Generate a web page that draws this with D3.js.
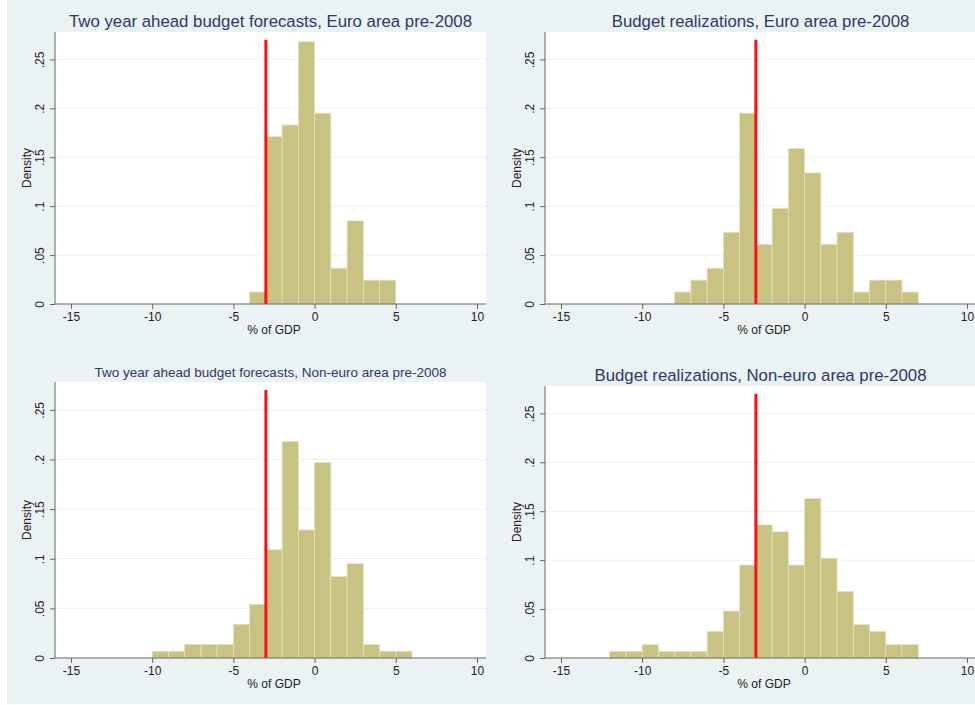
<!DOCTYPE html>
<html>
<head>
<meta charset="utf-8">
<script src="https://cdn.jsdelivr.net/npm/d3@7"></script>
<style>
  body { margin: 0; background: #fff; }
  svg { display: block; font-family: "Liberation Sans", Arial, sans-serif; }
</style>
</head>
<body>
<svg id="chart" width="975" height="705"></svg>
<script>
// histogram densities, bins of width 1 (% of GDP), first bin start given
const euroForecastStart = -4;
const euroForecastDensity = [0.0122, 0.171, 0.183, 0.268, 0.195, 0.0366, 0.085, 0.0244, 0.0244];

const euroRealStart = -8;
const euroRealDensity = [0.0122, 0.0244, 0.0366, 0.0732, 0.195, 0.061, 0.0976, 0.159, 0.134,
    0.061, 0.0732, 0.0122, 0.0244, 0.0244, 0.0122];

const nonEuroForecastStart = -10;
const nonEuroForecastDensity = [0.0068, 0.0068, 0.0136, 0.0136, 0.0136, 0.034, 0.054, 0.109,
    0.218, 0.129, 0.197, 0.082, 0.095, 0.0136, 0.0068, 0.0068];

const nonEuroRealStart = -12;
const nonEuroRealDensity = [0.0068, 0.0068, 0.0136, 0.0068, 0.0068, 0.0068, 0.0272, 0.048,
    0.095, 0.136, 0.129, 0.095, 0.163, 0.102, 0.068, 0.034, 0.0272, 0.0136, 0.0136];

const titles = [
    "Two year ahead budget forecasts, Euro area pre-2008",
    "Budget realizations, Euro area pre-2008",
    "Two year ahead budget forecasts, Non-euro area pre-2008",
    "Budget realizations, Non-euro area pre-2008"
];

const xTicks = [-15, -10, -5, 0, 5, 10];
const yTicks = [0, 0.05, 0.1, 0.15, 0.2, 0.25];
const deficitLimit = -3;
const limitTop = 0.27;

const panels = [
    { title: titles[0], start: euroForecastStart, values: euroForecastDensity, left: 55, top: 32, bottom: 304, fs: 16.8, ty: 27 },
    { title: titles[1], start: euroRealStart, values: euroRealDensity, left: 545, top: 32, bottom: 304, fs: 16.8, ty: 27 },
    { title: titles[2], start: nonEuroForecastStart, values: nonEuroForecastDensity, left: 55, top: 382, bottom: 658, fs: 13.5, ty: 377 },
    { title: titles[3], start: nonEuroRealStart, values: nonEuroRealDensity, left: 545, top: 386, bottom: 658, fs: 16.8, ty: 381 }
];

const plotW = 431;
const svg = d3.select("#chart");

svg.append("rect")
    .attr("x", 7).attr("y", 0)
    .attr("width", 968).attr("height", 704)
    .attr("fill", "#eaf2f3");

const fmtY = d => d === 0 ? "0" : String(d).replace(/^0/, "");
const fmtX = d => String(d);   // plain hyphen, like Stata

panels.forEach(p => {
    const x = d3.scaleLinear().domain([-15, 10]).range([p.left + 16, p.left + 422]);
    const y = d3.scaleLinear().domain([0, 0.278]).range([p.bottom, p.top]);
    const g = svg.append("g");

    g.append("rect")
        .attr("x", p.left).attr("y", p.top)
        .attr("width", plotW).attr("height", p.bottom - p.top)
        .attr("fill", "#fff");

    // grid
    g.selectAll(".grid")
        .data(yTicks.filter(t => t > 0))
        .enter().append("line")
            .attr("x1", p.left).attr("x2", p.left + plotW)
            .attr("y1", d => y(d)).attr("y2", d => y(d))
            .attr("stroke", "#eaf2f3").attr("stroke-width", 1);

    // bars
    g.selectAll(".bar")
        .data(p.values)
        .enter().append("rect")
            .attr("x", (d, i) => x(p.start + i))
            .attr("width", (d, i) => x(p.start + i + 1) - x(p.start + i))
            .attr("y", d => y(d))
            .attr("height", d => y(0) - y(d))
            .attr("fill", "#c8c383")
            .attr("stroke", "#e4e1b8")
            .attr("stroke-width", 0.8);

    // deficit limit line
    g.append("line")
        .attr("x1", x(deficitLimit)).attr("x2", x(deficitLimit))
        .attr("y1", y(0)).attr("y2", y(limitTop))
        .attr("stroke", "#ff1010").attr("stroke-width", 3);

    // axes
    const xAxis = g.append("g")
        .attr("transform", `translate(0,${p.bottom})`)
        .call(d3.axisBottom(x).tickValues(xTicks).tickFormat(fmtX).tickSize(5));
    xAxis.select(".domain").attr("d", `M${p.left},0H${p.left + plotW}`);

    const yAxis = g.append("g")
        .attr("transform", `translate(${p.left},0)`)
        .call(d3.axisLeft(y).tickValues(yTicks).tickFormat(fmtY).tickSize(5));
    yAxis.select(".domain").attr("d", `M0,${p.bottom}V${p.top}`);
    yAxis.selectAll(".tick text")
        .attr("x", 0).attr("dy", null)
        .attr("transform", "translate(-11,0) rotate(-90)")
        .attr("text-anchor", "middle");

    [xAxis, yAxis].forEach(a => {
        a.select(".domain").attr("stroke", "#666");
        a.selectAll(".tick line").attr("stroke", "#666");
        a.selectAll(".tick text").attr("fill", "#222").attr("font-size", 12);
    });
    xAxis.selectAll(".tick text").attr("dy", null).attr("y", 17);

    g.append("text")
        .attr("x", x(-2.5)).attr("y", p.bottom + 30)
        .attr("text-anchor", "middle")
        .attr("font-size", 12).attr("fill", "#222")
        .text("% of GDP");

    g.append("text")
        .attr("transform", `translate(${p.left - 24},${(p.top + p.bottom) / 2}) rotate(-90)`)
        .attr("text-anchor", "middle")
        .attr("font-size", 12).attr("fill", "#222")
        .text("Density");

    g.append("text")
        .attr("x", p.left + plotW / 2).attr("y", p.ty)
        .attr("text-anchor", "middle")
        .attr("font-size", p.fs).attr("fill", "#2f3868")
        .text(p.title);
});
</script>
</body>
</html>
